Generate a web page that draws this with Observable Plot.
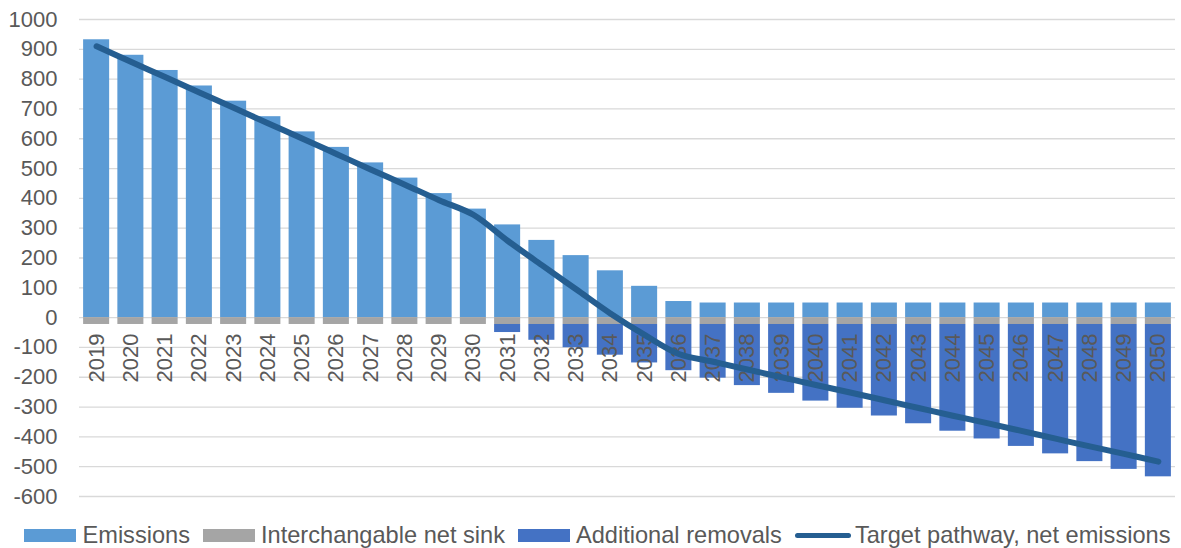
<!DOCTYPE html>
<html>
<head>
<meta charset="utf-8">
<script src="https://cdn.jsdelivr.net/npm/d3@7"></script>
<script src="https://cdn.jsdelivr.net/npm/@observablehq/plot@0.6"></script>
<style>
  html, body { margin: 0; padding: 0; background: #fff; }
  body { width: 1181px; height: 548px; overflow: hidden; font-family: "Liberation Sans", Arial, sans-serif; }
  #legend { display: flex; justify-content: center; align-items: center; height: 26px; padding-top: 12px; width: 1195px; font-size: 23.6px; color: #595959; white-space: nowrap; }
  .item { display: flex; align-items: center; margin: 0 6.5px; flex-shrink: 0; white-space: nowrap; }
  .sw { width: 52px; height: 13px; margin-right: 6px; flex-shrink: 0; }
  .ln { width: 56px; height: 5px; border-radius: 3px; margin-right: 4px; flex-shrink: 0; }
</style>
</head>
<body>
<div id="chart"></div>
<div id="legend"></div>
<script>
const years = [2019,2020,2021,2022,2023,2024,2025,2026,2027,2028,2029,2030,2031,2032,2033,2034,
               2035,2036,2037,2038,2039,2040,2041,2042,2043,2044,2045,2046,2047,2048,2049,2050];
const emissions = [932,880,829,777,726,674,623,571,519,468,416,364,311,259,208,157,
                   105,54,49,49,49,49,49,49,49,49,49,49,49,49,49,49];
const netSink = [-23,-23,-23,-23,-23,-23,-23,-23,-23,-23,-23,-23,-23,-23,-23,-23,
                 -23,-23,-23,-23,-23,-23,-23,-23,-23,-23,-23,-23,-23,-23,-23,-23];
const removals = [0,0,0,0,0,0,0,0,0,0,0,0,-27,-53,-78,-103,
                  -129,-155,-180,-205,-231,-257,-281,-307,-333,-358,-384,-409,-434,-460,-486,-511];
const target = [910,858,807,755,704,652,601,549,497,446,394,345,258,176,95,14,
                -58,-122,-148,-174,-200,-226,-251,-277,-303,-329,-354,-380,-406,-432,-457,-483];
const yTicks = [1000,900,800,700,600,500,400,300,200,100,0,-100,-200,-300,-400,-500,-600];

const seriesNames = ["Emissions", "Interchangable net sink", "Additional removals"];
const seriesColors = ["#5B9BD5", "#A5A5A5", "#4472C4"];
const lineName = "Target pathway, net emissions";
const lineColor = "#255E91";

const rows = [];
years.forEach((yr, i) => {
  rows.push({year: yr, series: seriesNames[0], value: emissions[i]});
  rows.push({year: yr, series: seriesNames[1], value: netSink[i]});
  rows.push({year: yr, series: seriesNames[2], value: removals[i]});
});
const lineRows = years.map((yr, i) => ({year: yr, value: target[i]}));

const chart = Plot.plot({
  width: 1181,
  height: 510,
  marginTop: 19,
  marginBottom: 14,
  marginLeft: 79,
  marginRight: 6,
  style: {fontFamily: "'Liberation Sans', Arial, sans-serif", fontSize: "22px", color: "#595959", background: "#fff"},
  x: {type: "band", domain: years, paddingInner: 0.24, paddingOuter: 0.12, round: false, axis: null},
  y: {domain: [-600, 1000], ticks: yTicks},
  color: {domain: seriesNames, range: seriesColors},
  marks: [
    Plot.gridY(yTicks, {stroke: "#d9d9d9", strokeOpacity: 1, strokeWidth: 1.3}),
    Plot.axisY(yTicks, {tickSize: 0, tickPadding: 22, fontSize: 22, fill: "#595959", tickFormat: d => String(d), label: null}),
    Plot.barY(rows, {x: "year", y: "value", fill: "series", order: seriesNames}),
    Plot.text(years, {x: d => d, y: 0, text: d => String(d), rotate: -90, textAnchor: "end", dy: 16, fontSize: 22, fill: "#595959"}),
    Plot.line(lineRows, {x: "year", y: "value", stroke: lineColor, strokeWidth: 6, strokeLinecap: "round", strokeLinejoin: "round", curve: "catmull-rom"})
  ]
});
document.getElementById("chart").appendChild(chart);

const legend = document.getElementById("legend");
seriesNames.forEach((n, i) => {
  const it = document.createElement("div");
  it.className = "item";
  it.innerHTML = `<div class="sw" style="background:${seriesColors[i]}"></div><span>${n}</span>`;
  legend.appendChild(it);
});
const li = document.createElement("div");
li.className = "item";
li.innerHTML = `<div class="ln" style="background:${lineColor}"></div><span>${lineName}</span>`;
legend.appendChild(li);
</script>
</body>
</html>
